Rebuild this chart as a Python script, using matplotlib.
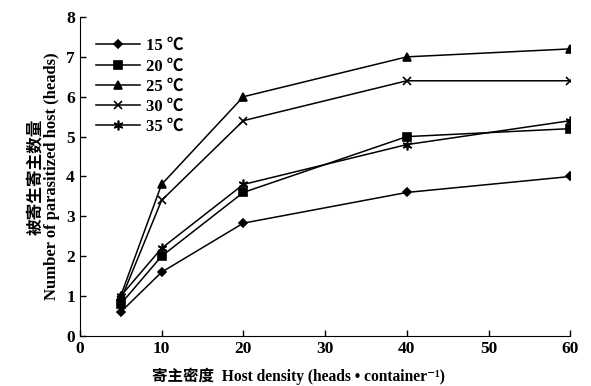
import matplotlib
matplotlib.use("Agg")
import matplotlib.pyplot as plt

x = [5, 10, 20, 40, 60]
labels = ["15 ℃", "20 ℃", "25 ℃", "30 ℃", "35 ℃"]
s15 = [0.6, 1.6, 2.83, 3.6, 4.0]
s20 = [0.8, 2.0, 3.6, 5.0, 5.2]
s25 = [1.0, 3.8, 6.0, 7.0, 7.2]
s30 = [0.9, 3.4, 5.4, 6.4, 6.4]
s35 = [1.0, 2.2, 3.8, 4.8, 5.4]
series = [s15, s20, s25, s30, s35]
markers = ["D", "s", "^", "x", (6, 2, 0)]
msizes = [4, 5.5, 6, 6, 7]

fam = ["Liberation Serif", "Noto Sans CJK SC", "DejaVu Serif"]
plt.rcParams["font.family"] = fam

fig = plt.figure(figsize=(5.91, 3.86), dpi=100)
ax = fig.add_axes([0.135, 0.1295, 0.83, 0.8265])

for ys, lab, m, ms in zip(series, labels, markers, msizes):
    ax.plot(x, ys, color="black", lw=1.1, marker=m, ms=ms, mew=1.2,
            markerfacecolor="black", label=lab)

ax.set_xlim(0, 60)
ax.set_ylim(0, 8)
ax.set_xticks([0, 10, 20, 30, 40, 50, 60])
ax.set_yticks(range(0, 9))
ax.spines["top"].set_visible(False)
ax.spines["right"].set_visible(False)
ax.tick_params(direction="in", length=4, width=1, labelsize=12.5)
for t in ax.get_xticklabels() + ax.get_yticklabels():
    t.set_fontweight("bold")

ax.set_xlabel("寄主密度  Host density (heads • container\u207b\u00b9)",
              fontsize=11.2, fontweight="bold")
ax.xaxis.set_label_coords(0.445, -0.1)
ax.set_ylabel("被寄生寄主数量\nNumber of parasitized host (heads)",
              fontsize=12, fontweight="bold", labelpad=4, linespacing=1.0)

leg = ax.legend(loc="upper left", frameon=False, bbox_to_anchor=(0.01, 0.97),
                prop={"family": fam, "weight": "bold", "size": 12},
                handlelength=2.6, labelspacing=0.25, borderaxespad=0.3,
                handletextpad=0.4)

fig.savefig("out.png", dpi=100)
